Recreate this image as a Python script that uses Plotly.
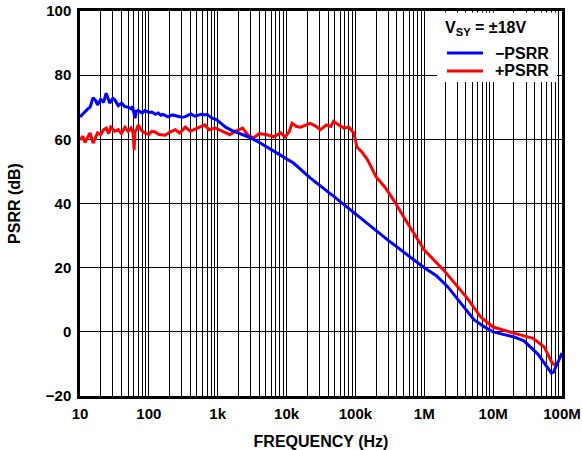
import plotly.graph_objects as go

# -PSRR (blue)
neg_freq = [10, 11, 11.8, 13, 14, 15.5, 17, 18, 20, 22, 24, 27, 30, 32, 36, 40, 45, 50, 55, 58, 63, 66, 70,
            80, 88, 100, 110, 125, 136, 150, 160, 190, 220, 265, 300, 330, 370, 410, 460, 520, 580, 650, 700,
            780, 850, 950, 1100, 1300, 1600, 2300, 3000, 4200, 5500, 7300, 10000, 12600, 16000, 22000,
            50000, 119000, 300000, 1000000, 1500000, 2200000, 3500000, 5300000, 7500000, 10000000,
            14000000, 20000000, 28000000, 35000000, 45000000, 55000000, 63000000, 70000000, 75000000,
            80000000, 90000000, 100000000]
neg_psrr = [67.0, 68.0, 68.5, 69.5, 70.0, 73.0, 72.0, 70.7, 72.5, 71.5, 74.4, 71.3, 72.8, 72.3, 70.5, 71.3, 70.2,
            70.0, 69.5, 70.2, 66.6, 68.8, 69.0, 68.2, 69.0, 68.4, 68.5, 67.8, 68.2, 67.5, 67.8, 67.0, 67.6, 67.3,
            66.9, 67.0, 67.5, 67.9, 67.2, 67.5, 67.8, 67.6, 67.8, 67.0, 66.5, 66.2, 65.0, 63.8, 62.8, 61.4, 60.5,
            58.8, 57.4, 55.7, 53.9, 52.6, 50.6, 48.0, 42.0, 35.5, 28.5, 20.0, 17.5, 14.0, 8.5, 3.7, 1.5, 0.0,
            -0.8, -1.6, -2.8, -4.7, -7.0, -9.7, -11.5, -12.8, -12.6, -11.3, -8.8, -6.6]

# +PSRR (red)
pos_freq = [10, 11, 11.8, 13, 14, 15.5, 17, 18, 20, 22, 24, 26, 28, 32, 36, 40, 45, 50, 55, 59, 61, 63, 66, 70,
            78, 88, 100, 110, 123, 140, 173, 200, 242, 280, 340, 400, 470, 550, 650, 750, 920, 1100, 1300, 1500,
            1800, 2300, 2700, 3300, 4000, 5200, 6500, 8200, 9500, 11000, 12000, 14000, 16000, 19000, 22000,
            26000, 31000, 38000, 44000, 48000, 55000, 68000, 80000, 95000, 105000, 125000, 150000, 200000,
            270000, 360000, 530000, 1000000, 1900000, 4200000, 6600000, 10000000, 20000000, 38000000,
            55000000, 72000000, 80000000]
pos_psrr = [59.8, 61.0, 59.0, 60.5, 62.0, 58.8, 61.0, 62.0, 61.5, 63.0, 63.5, 61.8, 63.8, 62.5, 63.0, 61.8, 63.8,
            62.5, 63.5, 62.0, 56.6, 62.5, 63.0, 64.5, 62.8, 62.0, 61.5, 62.5, 62.3, 61.5, 61.3, 62.2, 63.0, 62.0,
            63.8, 62.5, 63.2, 63.8, 64.5, 63.0, 63.5, 62.8, 62.0, 61.4, 62.5, 63.5, 61.5, 60.4, 61.8, 61.4, 60.8,
            62.0, 60.7, 62.5, 65.0, 64.0, 63.8, 64.5, 65.0, 64.2, 63.0, 64.5, 64.0, 65.6, 64.8, 63.5, 63.8, 62.0,
            57.6, 56.0, 53.6, 48.3, 45.0, 41.0, 35.0, 25.5, 19.3, 10.5, 4.6, 1.5, -0.4, -2.0, -4.7, -9.7, -10.4]

x_tickvals = [10, 100, 1000, 10000, 100000, 1000000, 10000000, 100000000]
x_ticktext = ["10", "100", "1k", "10k", "100k", "1M", "10M", "100M"]
y_tickvals = [-20, 0, 20, 40, 60, 80, 100]
y_ticktext = ["\u221220", "0", "20", "40", "60", "80", "100"]

series_names = ["\u2212PSRR", "+PSRR"]
series_colors = ["#0000FF", "#FF0000"]
legend_title = "V<sub>SY</sub> = \u00b118V"

FONT = "Arial, Liberation Sans, sans-serif"

fig = go.Figure()
fig.add_trace(go.Scatter(x=pos_freq, y=pos_psrr, mode="lines", name=series_names[1],
                         line=dict(color=series_colors[1], width=3)))
fig.add_trace(go.Scatter(x=neg_freq, y=neg_psrr, mode="lines", name=series_names[0],
                         line=dict(color=series_colors[0], width=3)))

# Legend box (drawn manually so it matches the reference layout)
shapes = [dict(type="rect", xref="paper", yref="paper", x0=0.7407, x1=0.9896, y0=0.8156, y1=0.996,
               fillcolor="white", line=dict(width=0), layer="above")]
annotations = [dict(text=legend_title, xref="paper", yref="paper", x=0.7531, y=0.9558,
                    xanchor="left", yanchor="middle", showarrow=False,
                    font=dict(family=FONT, size=16, color="black", weight="bold"))]
legend_rows_y = [0.8909, 0.8442]
for name, color, ry in zip(series_names, series_colors, legend_rows_y):
    shapes.append(dict(type="line", xref="paper", yref="paper", x0=0.7614, x1=0.8361, y0=ry, y1=ry,
                       line=dict(color=color, width=3), layer="above"))
    annotations.append(dict(text=name, xref="paper", yref="paper", x=0.8568, y=ry,
                            xanchor="left", yanchor="middle", showarrow=False,
                            font=dict(family=FONT, size=16, color="black", weight="bold")))

fig.update_layout(
    template="none",
    width=582, height=450,
    margin=dict(l=80, r=20, t=11, b=54),
    paper_bgcolor="white", plot_bgcolor="white",
    font=dict(family=FONT, size=15, color="black"),
    showlegend=False,
    shapes=shapes,
    annotations=annotations,
)

fig.update_xaxes(
    type="log", range=[1, 8], automargin=False,
    tickvals=x_tickvals, ticktext=x_ticktext,
    tickfont=dict(family=FONT, size=15, color="black", weight="bold"),
    showgrid=True, gridcolor="black", gridwidth=1.3,
    minor=dict(showgrid=True, gridcolor="black", gridwidth=1.3, dtick="D1", ticks=""),
    showline=True, linecolor="black", linewidth=2.5, mirror=True,
    ticks="", ticklabelstandoff=2, zeroline=False,
    title=dict(text="FREQUENCY (Hz)", standoff=18,
               font=dict(family=FONT, size=16, color="black", weight="bold")),
)
fig.update_yaxes(
    range=[-20, 100], automargin=False,
    tickvals=y_tickvals, ticktext=y_ticktext,
    tickfont=dict(family=FONT, size=15, color="black", weight="bold"),
    showgrid=True, gridcolor="black", gridwidth=1.3,
    showline=True, linecolor="black", linewidth=2.5, mirror=True,
    ticks="", ticklabelstandoff=3, zeroline=False,
    title=dict(text="PSRR (dB)", standoff=22,
               font=dict(family=FONT, size=16, color="black", weight="bold")),
)

fig.write_html("out.html", config={"displayModeBar": False},
               post_script="document.body.style.margin='0';document.body.style.padding='0';")
